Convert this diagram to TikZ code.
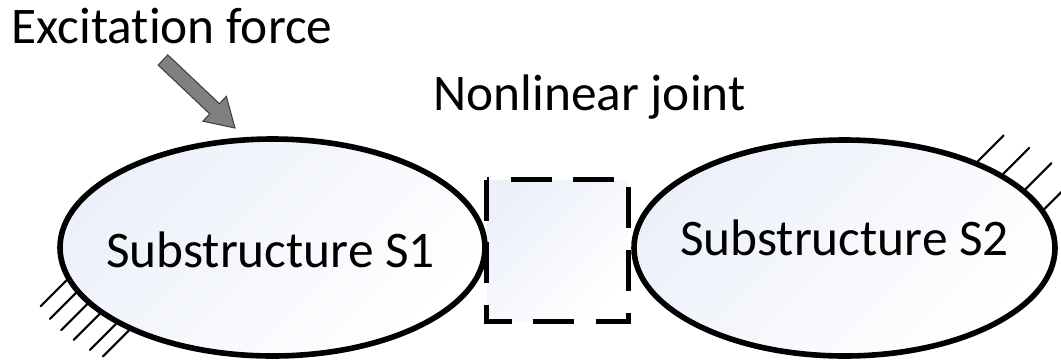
\documentclass[tikz,border=0pt]{standalone}
\usepackage{fontspec}
\setmainfont{Carlito}[Ligatures=NoCommon]
\usetikzlibrary{shapes.geometric}
\definecolor{shadeA}{RGB}{236,240,249}
\definecolor{arrowfill}{RGB}{128,128,128}
\definecolor{arrowedge}{RGB}{64,64,64}
\begin{document}
\begin{tikzpicture}[x=0.75pt,y=-0.75pt,
  body/.style={ellipse, draw=black, line width=4.2pt, inner sep=0pt,
    top color=shadeA, bottom color=white, shading angle=45},
  jointfill/.style={rectangle, inner sep=0pt, minimum size=105.75pt,
    top color=shadeA, bottom color=white, shading angle=45},
  jointline/.style={line width=3.6pt, dash pattern=on 30.75pt off 16.25pt, line join=miter, line cap=butt},
  hatch/.style={line width=1.6pt, line cap=round},
  lbl/.style={font=\fontsize{38.5}{46}\selectfont, inner sep=0pt, anchor=base},
  forcearrow/.style={fill=arrowfill, draw=arrowedge, line width=0.8pt, line join=miter}]
\clip (0,0) rectangle (1061,362);
% nonlinear joint box (fill)
\node[jointfill] (J) at (557.5,250.5) {};
% substructures
\node[body, minimum width=318.75pt, minimum height=162.75pt] (S1) at (272.5,247.5) {};
\node[body, minimum width=315.75pt, minimum height=162pt] (S2) at (844.5,248) {};
% dashed outline of joint
\draw[jointline] (J.north west) -- (J.south west) -- (J.south east) -- (J.north east) -- cycle;
% labels
\node[lbl] (S1t) at (270.5,267) {Substructure S1};
\node[lbl] (S2t) at (844.5,255) {Substructure S2};
\node[lbl] (Jt) at (589.5,110) {Nonlinear joint};
\node[lbl] (Ft) at (172,43) {Excitat\kern0pt ion force};
% ground hatches
\foreach \a in {189,193,197,201,206,210} \draw[hatch] (S1.\a) -- ++(-26,26);
\foreach \a in {33,25,18,11} \draw[hatch] (S2.\a) -- ++(26,-26);
% excitation force arrow
\draw[forcearrow] (158.2,65.1) -- (209.8,113.9) -- (202.9,121.2) -- (235,128)
  -- (226.3,96.4) -- (219.4,103.7) -- (167.8,54.9) -- cycle;
\end{tikzpicture}
\end{document}
